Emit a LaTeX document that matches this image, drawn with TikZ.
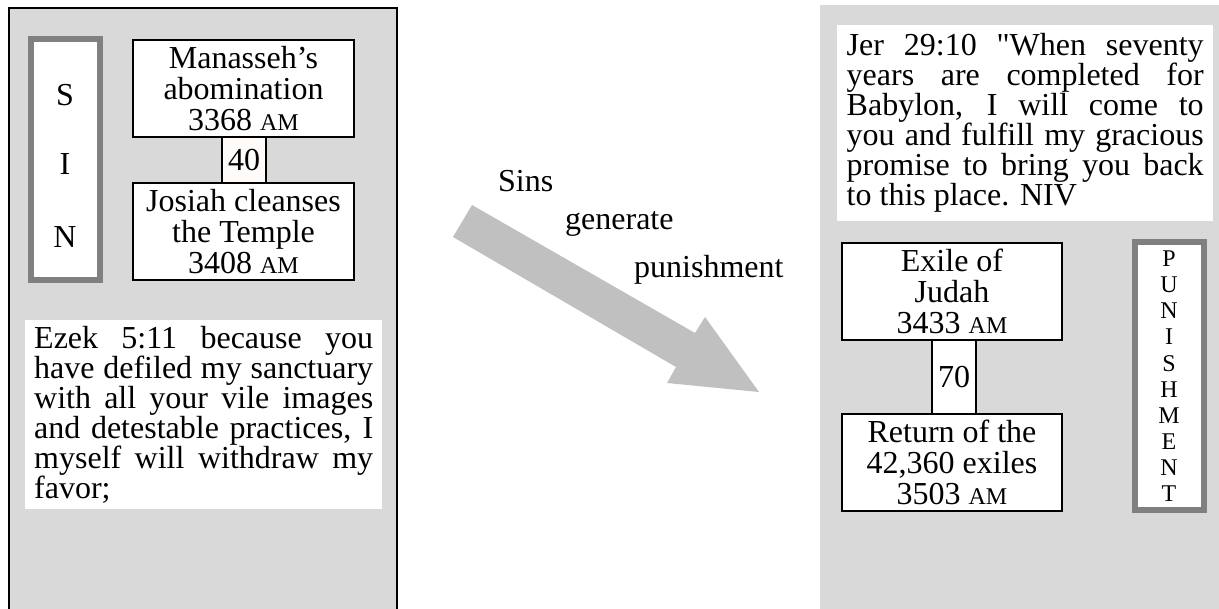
\documentclass[tikz,border=0pt]{standalone}
\usepackage{fontspec}
\setmainfont{Liberation Serif}
\newfontfamily\rawserif{Liberation Serif}[Ligatures=ResetAll]
\definecolor{panel}{RGB}{217,217,217}
\definecolor{arrowgray}{RGB}{192,192,192}
\definecolor{framegray}{RGB}{128,128,128}
\definecolor{dotfill}{RGB}{255,251,249}
\newcommand{\amtxt}{{\fontsize{24}{24}\selectfont AM}}
\begin{document}
\begin{tikzpicture}[x=1pt,y=-1pt,
  evbox/.style={draw=black, line width=1.3pt, fill=white, align=center, inner sep=0pt,
    minimum width=221pt, minimum height=97pt, font={\fontsize{32}{31}\selectfont}},
  numbox/.style={draw=black, line width=1.3pt, fill=white, inner sep=0pt,
    minimum width=44pt, font={\fontsize{32}{31}\selectfont}},
  quotebox/.style={fill=white, align=justify, inner ysep=0pt, anchor=north west,
    font={\fontsize{32}{30}\selectfont\tolerance=10000\hyphenpenalty=10000}},
  bigletter/.style={anchor=base, inner sep=0pt, font={\fontsize{32}{32}\selectfont}},
  smallletter/.style={anchor=base, inner sep=0pt, font={\fontsize{24}{24}\selectfont}},
  arrowlabel/.style={anchor=base west, inner sep=0pt, font={\fontsize{32}{32}\selectfont}},
  frame/.style={draw=framegray, line width=6pt, fill=white}
]
\useasboundingbox (0,0) rectangle (1219,609);
\clip (0,0) rectangle (1219,609);
\fill[white] (0,0) rectangle (1219,609);

% left panel
\draw[fill=panel, line width=1.5pt] (9,8) rectangle (397,620);
\draw[frame] (31,39) rectangle (100,280);
\node[bigletter] (s1) at (65,106) {S};
\node[bigletter] (s2) at (65,175) {I};
\node[bigletter] (s3) at (65,248) {N};

\node[evbox] (man) at (243.5,88.5) {Manasseh’s\\abomination\\3368 \amtxt};
\node[numbox, fill=dotfill, minimum height=46pt] (forty) at (244,160) {40};
\node[evbox] (jos) at (243.5,231.5) {Josiah cleanses\\the Temple\\3408 \amtxt};

\node[quotebox, text width=339pt, inner xsep=9pt, minimum height=189pt] (ezek) at (25,320)
 {Ezek 5:11 because you\linebreak have defiled my sanctuary\linebreak with all your vile images\linebreak and detestable practices, I\linebreak myself will withdraw my\linebreak favor;};

% arrow
\fill[arrowgray] (472,205) -- (695,333) -- (705,317) -- (759,392) -- (667,383) -- (676,367) -- (453,237) -- cycle;
\node[arrowlabel] (l1) at (498,192) {Sins};
\node[arrowlabel] (l2) at (565,230) {generate};
\node[arrowlabel] (l3) at (634,278) {punishment};

% right panel
\fill[panel] (820,5) rectangle (1230,620);
\node[quotebox, text width=357pt, inner xsep=9.5pt, minimum height=196pt] (jer) at (837,25)
 {Jer 29:10 {\rawserif"}When seventy\linebreak years are completed for\linebreak Babylon, I will come to\linebreak you and fulfill my gracious\linebreak promise to bring you back\linebreak to this place. NIV};

\node[evbox, minimum width=220pt] (exile) at (952,291.5) {Exile of\\Judah\\3433 \amtxt};
\node[numbox, minimum height=74pt] (seventy) at (954,377) {70};
\node[evbox, minimum width=220pt] (ret) at (952,462.5) {Return of the\\42,360 exiles\\3503 \amtxt};

\draw[frame] (1135,242) rectangle (1204,510);
\foreach \ch [count=\i from 0] in {P,U,N,I,S,H,M,E,N,T}
  \node[smallletter] (p\i) at (1169,{266.7+26.1*\i}) {\ch};
\end{tikzpicture}
\end{document}
